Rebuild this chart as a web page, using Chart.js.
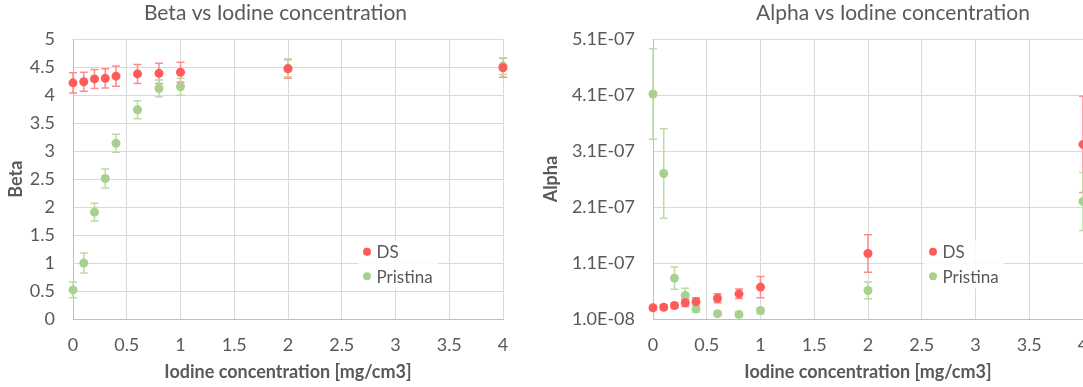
<!DOCTYPE html>
<html>
<head>
<meta charset="utf-8">
<script src="https://cdn.jsdelivr.net/npm/chart.js@4/dist/chart.umd.min.js"></script>
<style>
    html, body { margin: 0; padding: 0; background: #fff; overflow: hidden; width: 1083px; height: 387px; }
    #betaBox { position: absolute; left: 0; top: 0; }
    #alphaBox { position: absolute; left: 535px; top: 0; }
</style>
</head>
<body>
<div id="betaBox"><canvas id="betaChart" width="551" height="387"></canvas></div>
<div id="alphaBox"><canvas id="alphaChart" width="716" height="387"></canvas></div>
<script>
// iodine concentration [mg/cm3]
var concentration = [0, 0.1, 0.2, 0.3, 0.4, 0.6, 0.8, 1, 2, 4];

// Beta
var betaDS = [4.22, 4.24, 4.29, 4.30, 4.34, 4.38, 4.39, 4.41, 4.47, 4.49];
var betaDSErr = [0.18, 0.17, 0.17, 0.17, 0.18, 0.17, 0.18, 0.18, 0.17, 0.17];
var betaPristina = [0.52, 1.00, 1.91, 2.51, 3.14, 3.74, 4.12, 4.15, 4.48, 4.52];
var betaPristinaErr = [0.14, 0.18, 0.16, 0.17, 0.16, 0.16, 0.15, 0.15, 0.15, 0.15];

// Alpha
var alphaDS = [3.0e-8, 3.1e-8, 3.4e-8, 3.9e-8, 4.1e-8, 4.7e-8, 5.5e-8, 6.7e-8, 1.27e-7, 3.22e-7];
var alphaDSErr = [0.4e-8, 0.45e-8, 0.5e-8, 0.65e-8, 0.7e-8, 0.8e-8, 0.85e-8, 1.9e-8, 3.35e-8, 8.6e-8];
var alphaPristina = [4.12e-7, 2.70e-7, 8.3e-8, 5.2e-8, 2.8e-8, 1.95e-8, 1.8e-8, 2.5e-8, 6.1e-8, 2.2e-7];
var alphaPristinaErr = [8.1e-8, 8.0e-8, 2.0e-8, 1.3e-8, 0.6e-8, 0.4e-8, 0.4e-8, 0.5e-8, 1.5e-8, 5.2e-8];

// tick labels
var xTicks = [0, 0.5, 1, 1.5, 2, 2.5, 3, 3.5, 4];
var betaTicks = [0, 0.5, 1, 1.5, 2, 2.5, 3, 3.5, 4, 4.5, 5];
var alphaTicks = [1.0e-8, 1.1e-7, 2.1e-7, 3.1e-7, 4.1e-7, 5.1e-7];

var FONT = "Lato, 'Open Sans', sans-serif";
var TEXT = '#595959';
var GRID = '#d9d9d9';
var RED = '#ff5b5b', RED_BAR = '#ff8a8c';
var GREEN = '#a9d18e', GREEN_BAR = '#bcdca6';

function points(ys) {
    var out = [];
    for (var i in concentration) {
        out.push({ x: concentration[i], y: ys[i] });
    }
    return out;
}

function sci(v) {
    var s = v.toExponential(1).toUpperCase();   // "5.1E-7"
    var parts = s.split('E');
    var exp = parseInt(parts[1], 10);
    var sign = exp < 0 ? '-' : '+';
    exp = Math.abs(exp);
    return parts[0] + 'E' + sign + (exp < 10 ? '0' + exp : exp);
}

// vertical error bars, drawn with the chart's own scales
var errorBars = {
    id: 'errorBars',
    beforeDatasetsDraw: function (chart) {
        var ctx = chart.ctx;
        var xs = chart.scales.x, ys = chart.scales.y;
        chart.data.datasets.forEach(function (ds) {
            if (!ds.errors) return;
            ctx.save();
            ctx.strokeStyle = ds.errorColor;
            ctx.lineWidth = 1.5;
            ds.data.forEach(function (p, i) {
                var e = ds.errors[i];
                var px = xs.getPixelForValue(p.x);
                var top = ys.getPixelForValue(p.y + e);
                var bot = ys.getPixelForValue(p.y - e);
                ctx.beginPath();
                ctx.moveTo(px, top); ctx.lineTo(px, bot);
                ctx.moveTo(px - 4, top); ctx.lineTo(px + 4, top);
                ctx.moveTo(px - 4, bot); ctx.lineTo(px + 4, bot);
                ctx.stroke();
            });
            ctx.restore();
        });
    }
};

// legend sitting inside the plot area, like the Excel one
var boxLegend = {
    id: 'boxLegend',
    afterDraw: function (chart, args, opts) {
        var ctx = chart.ctx;
        var area = chart.chartArea;
        var x = area.left + opts.dx, y = area.top + opts.dy;
        ctx.save();
        ctx.fillStyle = 'rgba(255,255,255,0.85)';
        ctx.fillRect(x - 9, y - 11, 80, 48);
        ctx.font = '17px ' + FONT;
        ctx.textBaseline = 'middle';
        chart.data.datasets.forEach(function (ds, i) {
            var yy = y + i * 24.5;
            ctx.fillStyle = ds.backgroundColor;
            ctx.beginPath();
            ctx.arc(x, yy, 4, 0, Math.PI * 2);
            ctx.fill();
            ctx.fillStyle = TEXT;
            ctx.fillText(ds.label, x + 9.5, yy + 1);
        });
        ctx.restore();
    }
};

function makeChart(id, opts) {
    return new Chart(document.getElementById(id), {
        type: 'scatter',
        data: {
            datasets: [
                {
                    label: 'DS',
                    data: points(opts.ds),
                    errors: opts.dsErr,
                    errorColor: RED_BAR,
                    backgroundColor: RED,
                    borderWidth: 0,
                    pointRadius: 4.5,
                    clip: false
                },
                {
                    label: 'Pristina',
                    data: points(opts.pristina),
                    errors: opts.pristinaErr,
                    errorColor: GREEN_BAR,
                    backgroundColor: GREEN,
                    borderWidth: 0,
                    pointRadius: 4.5,
                    clip: false
                }
            ]
        },
        options: {
            responsive: false,
            animation: false,
            devicePixelRatio: 1,
            plugins: {
                legend: { display: false },
                tooltip: { enabled: false },
                title: {
                    display: true,
                    text: opts.title,
                    color: TEXT,
                    font: { family: FONT, size: 21, weight: 'normal' },
                    padding: { top: 1, bottom: 13 }
                },
                boxLegend: { dx: opts.legendDx, dy: 212.5 }
            },
            scales: {
                x: {
                    type: 'linear',
                    min: 0,
                    max: 4,
                    afterBuildTicks: function (s) { s.ticks = xTicks.map(function (v) { return { value: v }; }); },
                    afterFit: function (s) { s.height = 68; },
                    grid: { color: GRID, lineWidth: 1, drawTicks: false },
                    border: { color: '#bfbfbf', width: 1 },
                    ticks: {
                        color: TEXT,
                        padding: 15,
                        maxRotation: 0,
                        font: { family: FONT, size: 18 },
                        callback: function (v) { return String(v); }
                    },
                    title: {
                        display: true,
                        text: 'Iodine concentration [mg/cm3]',
                        color: TEXT,
                        font: { family: FONT, size: 18, weight: 'bold' },
                        padding: { top: 0, bottom: 4 }
                    }
                },
                y: {
                    type: 'linear',
                    position: 'left',
                    min: opts.yMin,
                    max: opts.yMax,
                    afterBuildTicks: function (s) { s.ticks = opts.yTicks.map(function (v) { return { value: v }; }); },
                    afterFit: function (s) { s.width = opts.yWidth; },
                    grid: { color: GRID, lineWidth: 1, drawTicks: false },
                    border: { color: '#bfbfbf', width: 1 },
                    ticks: {
                        color: TEXT,
                        padding: 18,
                        font: { family: FONT, size: 18 },
                        callback: opts.yFormat
                    },
                    title: {
                        display: true,
                        text: opts.yTitle,
                        color: TEXT,
                        font: { family: FONT, size: 18, weight: 'bold' },
                        padding: { top: 5, bottom: 0 }
                    }
                },
                // empty axis that only reserves room on the right
                spacer: {
                    type: 'linear',
                    position: 'right',
                    display: true,
                    grid: { display: false, drawTicks: false },
                    border: { display: false },
                    ticks: { display: false },
                    afterFit: function (s) { s.width = opts.rightGap; }
                }
            }
        },
        plugins: [errorBars, boxLegend]
    });
}

makeChart('betaChart', {
    title: 'Beta vs Iodine concentration',
    yTitle: 'Beta',
    ds: betaDS, dsErr: betaDSErr,
    pristina: betaPristina, pristinaErr: betaPristinaErr,
    yMin: 0, yMax: 5, yTicks: betaTicks,
    yFormat: function (v) { return String(v); },
    yWidth: 73, rightGap: 48, legendDx: 294
});

makeChart('alphaChart', {
    title: 'Alpha vs Iodine concentration',
    yTitle: 'Alpha',
    ds: alphaDS, dsErr: alphaDSErr,
    pristina: alphaPristina, pristinaErr: alphaPristinaErr,
    yMin: 1.0e-8, yMax: 5.1e-7, yTicks: alphaTicks,
    yFormat: function (v) { return sci(v); },
    yWidth: 118, rightGap: 168, legendDx: 280
});
</script>
</body>
</html>
